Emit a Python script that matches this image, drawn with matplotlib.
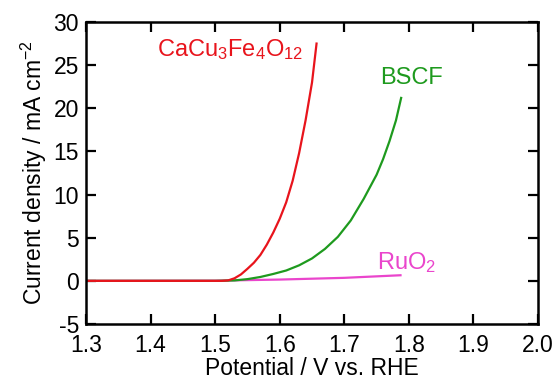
import numpy as np
import matplotlib
matplotlib.use("Agg")
import matplotlib.pyplot as plt

plt.rcParams['font.family'] = ['Liberation Sans', 'DejaVu Sans']
plt.rcParams['mathtext.fontset'] = 'custom'
plt.rcParams['mathtext.rm'] = 'Liberation Sans'
plt.rcParams['mathtext.it'] = 'Liberation Sans'

# LSV curves (potential in V vs. RHE, current density in mA cm^-2)
ccfo_v = [1.30, 1.45, 1.50, 1.51, 1.52, 1.53, 1.54, 1.55, 1.56, 1.57, 1.58, 1.59,
          1.60, 1.61, 1.62, 1.63, 1.64, 1.65, 1.657]
ccfo_j = [0.0, 0.0, 0.0, 0.0, 0.05, 0.3, 0.75, 1.4, 2.1, 3.0, 4.2, 5.6,
          7.2, 9.1, 11.6, 14.8, 18.6, 23.0, 27.5]

bscf_v = [1.30, 1.50, 1.53, 1.55, 1.57, 1.59, 1.61, 1.63, 1.65, 1.67, 1.69,
          1.71, 1.73, 1.75, 1.76, 1.77, 1.78, 1.788]
bscf_j = [0.0, 0.0, 0.05, 0.2, 0.45, 0.8, 1.2, 1.8, 2.6, 3.7, 5.1,
          7.0, 9.5, 12.3, 14.1, 16.2, 18.6, 21.2]

ruo2_v = [1.30, 1.50, 1.60, 1.70, 1.787]
ruo2_j = [0.0, 0.02, 0.15, 0.35, 0.65]

xticks = [1.3, 1.4, 1.5, 1.6, 1.7, 1.8, 1.9, 2.0]
yticks = [-5, 0, 5, 10, 15, 20, 25, 30]

red = '#e8141c'
green = '#1e9a1e'
pink = '#ea45cc'

fig = plt.figure(figsize=(5.56, 3.81), dpi=100)
ax = fig.add_axes([0.1547, 0.1496, 0.813, 0.7927])

ax.plot(ruo2_v, ruo2_j, color=pink, lw=1.6, solid_joinstyle='round')
ax.plot(bscf_v, bscf_j, color=green, lw=1.6, solid_joinstyle='round')
ax.plot(ccfo_v, ccfo_j, color=red, lw=1.6, solid_joinstyle='round')

ax.text(1.41, 26.75, r'CaCu$_3$Fe$_4$O$_{12}$', color=red, fontsize=17, va='center')
ax.text(1.755, 23.5, 'BSCF', color=green, fontsize=17, va='center')
ax.text(1.75, 2.1, r'RuO$_2$', color=pink, fontsize=17, va='center')

ax.set_xlim(1.3, 2.0)
ax.set_ylim(-5, 30)
ax.set_xticks(xticks)
ax.set_xticklabels([f'{t:.1f}' for t in xticks])
ax.set_yticks(yticks)
ax.set_yticklabels([str(t) for t in yticks])
ax.tick_params(direction='in', length=7, width=1.6, labelsize=16.5, top=True, right=True)
ax.tick_params(axis='x', pad=7)
ax.tick_params(axis='y', pad=5)
for s in ax.spines.values():
    s.set_linewidth(1.8)

ax.set_xlabel('Potential / V vs. RHE', fontsize=16.5, labelpad=0)
ax.set_ylabel(r'Current density / mA cm$^{-2}$', fontsize=16.5, labelpad=3)

fig.savefig('out.png', dpi=100)
